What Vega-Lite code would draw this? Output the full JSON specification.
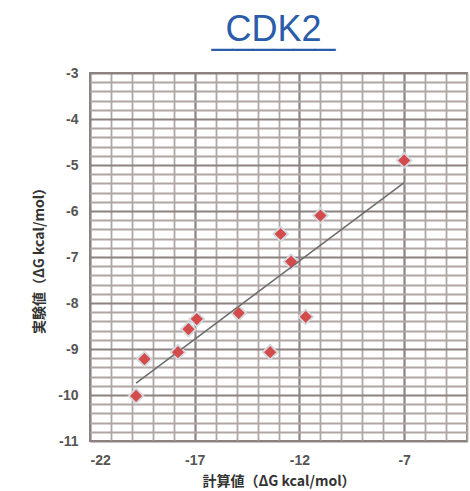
{
  "$schema": "https://vega.github.io/schema/vega-lite/v6.json",
  "width": 377,
  "height": 368,
  "autosize": "none",
  "padding": {"left": 90, "top": 73, "right": 3, "bottom": 50},
  "background": "white",
  "title": {
    "text": "CDK2",
    "subtitle": "______",
    "font": "Liberation Sans",
    "fontSize": 36,
    "fontWeight": "normal",
    "color": "#2a5caa",
    "subtitleFont": "Liberation Sans",
    "subtitleFontSize": 37,
    "subtitleColor": "#2a5caa",
    "subtitlePadding": -34,
    "anchor": "middle",
    "dx": -5,
    "offset": 14
  },
  "config": {
    "view": {"stroke": "#8c8280", "strokeWidth": 2}
  },
  "data": {
    "values": [
      {"calc": -7.0, "expt": -4.9},
      {"calc": -11.0, "expt": -6.1},
      {"calc": -12.9, "expt": -6.5},
      {"calc": -12.4, "expt": -7.1},
      {"calc": -11.7, "expt": -8.3},
      {"calc": -13.4, "expt": -9.07},
      {"calc": -14.9, "expt": -8.22},
      {"calc": -16.9, "expt": -8.35},
      {"calc": -17.3, "expt": -8.57},
      {"calc": -17.8, "expt": -9.07},
      {"calc": -19.4, "expt": -9.22},
      {"calc": -19.8, "expt": -10.02}
    ]
  },
  "layer": [
    {
      "mark": {"type": "point", "shape": "diamond", "filled": true, "size": 230, "fill": "#e6e9ee", "stroke": "#d3d9e0", "strokeWidth": 1.5, "opacity": 1},
      "encoding": {
        "x": {
          "field": "calc",
          "type": "quantitative",
          "scale": {"domain": [-22, -4], "nice": false, "zero": false},
          "axis": {
            "title": "計算値（ΔG  kcal/mol）",
            "titleFont": "Noto Sans CJK JP",
            "titleFontSize": 14,
            "titleFontWeight": "bold",
            "titleColor": "#333333",
            "titlePadding": 7,
            "tickCount": 100,
            "values": [-22,-21,-20,-19,-18,-17,-16,-15,-14,-13,-12,-11,-10,-9,-8,-7,-6,-5,-4],
            "labelExpr": "(datum.value + 22) % 5 == 0 ? '' + datum.value : ''",
            "labelOverlap": false,
            "labelFont": "Liberation Sans",
            "labelFontSize": 14,
            "labelFontWeight": "bold",
            "labelColor": "#555555",
            "labelPadding": 12,
            "ticks": false,
            "domain": false,
            "grid": true,
            "gridColor": {"condition": {"test": "(datum.value + 22) % 5 == 0", "value": "#8c8280"}, "value": "#b0a6a4"},
            "gridWidth": {"condition": {"test": "(datum.value + 22) % 5 == 0", "value": 2.2}, "value": 1.8},
            "gridOpacity": 1
          }
        },
        "y": {
          "field": "expt",
          "type": "quantitative",
          "scale": {"domain": [-11, -3], "nice": false, "zero": false},
          "axis": {
            "title": "実験値（ΔG  kcal/mol）",
            "titleFont": "Noto Sans CJK JP",
            "titleFontSize": 14,
            "titleFontWeight": "bold",
            "titleColor": "#333333",
            "titlePadding": 11,
            "tickCount": 100,
            "values": [-11,-10.8,-10.6,-10.4,-10.2,-10,-9.8,-9.6,-9.4,-9.2,-9,-8.8,-8.6,-8.4,-8.2,-8,-7.8,-7.6,-7.4,-7.2,-7,-6.8,-6.6,-6.4,-6.2,-6,-5.8,-5.6,-5.4,-5.2,-5,-4.8,-4.6,-4.4,-4.2,-4,-3.8,-3.6,-3.4,-3.2,-3],
            "labelExpr": "abs(datum.value - round(datum.value)) < 0.01 ? '' + round(datum.value) : ''",
            "labelOverlap": false,
            "labelFont": "Liberation Sans",
            "labelFontSize": 14,
            "labelFontWeight": "bold",
            "labelColor": "#555555",
            "labelPadding": 12,
            "ticks": false,
            "domain": false,
            "grid": true,
            "gridColor": {"condition": {"test": "abs(datum.value - round(datum.value)) < 0.01", "value": "#8c8280"}, "value": "#b0a6a4"},
            "gridWidth": {"condition": {"test": "abs(datum.value - round(datum.value)) < 0.01", "value": 2.2}, "value": 1.8},
            "gridOpacity": 1
          }
        }
      }
    },
    {
      "transform": [{"regression": "expt", "on": "calc"}],
      "mark": {"type": "line", "color": "#6e6e6e", "strokeWidth": 1.6},
      "encoding": {
        "x": {"field": "calc", "type": "quantitative"},
        "y": {"field": "expt", "type": "quantitative"}
      }
    },
    {
      "mark": {"type": "point", "shape": "diamond", "filled": true, "size": 150, "fill": "#d24c4c", "opacity": 1},
      "encoding": {
        "x": {"field": "calc", "type": "quantitative"},
        "y": {"field": "expt", "type": "quantitative"}
      }
    }
  ]
}
